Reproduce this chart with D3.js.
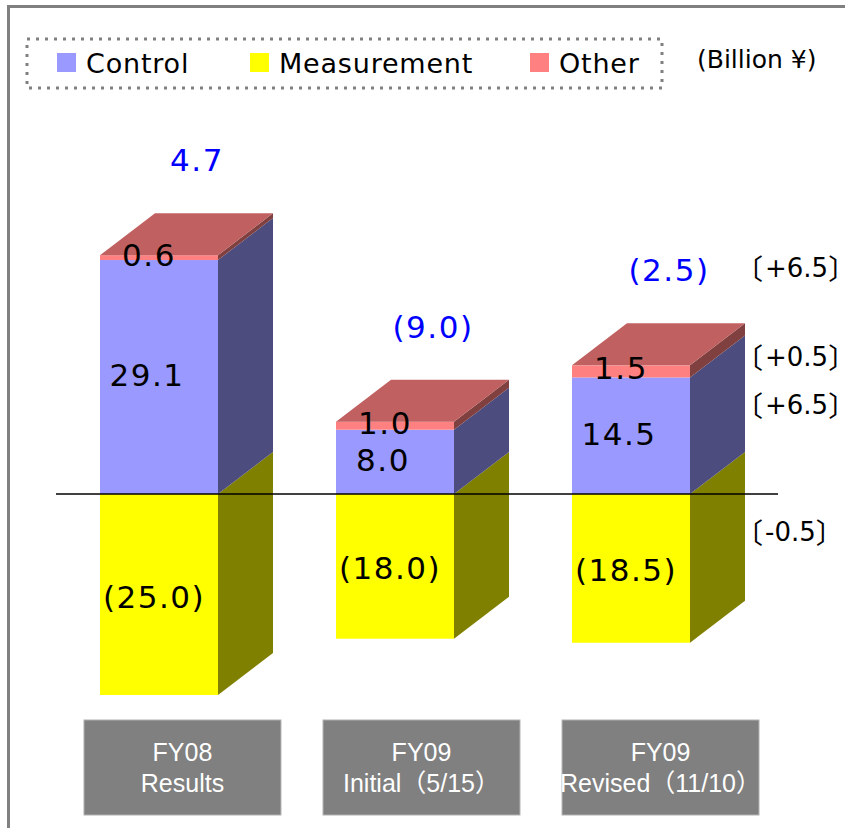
<!DOCTYPE html>
<html>
<head>
<meta charset="utf-8">
<script src="https://cdn.jsdelivr.net/npm/d3@7"></script>
<style>
  body { margin: 0; background: #fff; }
  svg { display: block; }
  .bracket { font-family: 'Noto Sans CJK JP', sans-serif; font-feature-settings: "halt"; }
</style>
</head>
<body>
<div id="chart"></div>
<script>
// ===========Data
var catTop = ["FY08", "FY09", "FY09"];
var catBottom = ["Results", "Initial（5/15）", "Revised（11/10）"];
var control = [29.1, 8.0, 14.5];
var measurement = [-25.0, -18.0, -18.5];
var other = [0.6, 1.0, 1.5];
var controlLabels = ["29.1", "8.0", "14.5"];
var measurementLabels = ["(25.0)", "(18.0)", "(18.5)"];
var otherLabels = ["0.6", "1.0", "1.5"];
var totalLabels = ["4.7", "(9.0)", "(2.5)"];
// change of revised forecast vs initial: total, other, control, measurement
var changeLabels = ["+6.5", "+0.5", "+6.5", "-0.5"];
var legendNames = ["Control", "Measurement", "Other"];

// ===========Sizes
var svgWidth = 845;
var svgHeight = 828;
var depthX = 55;
var depthY = -42;

var colors = {
    control: { front: "#9999FF", side: "#4C4C7E" },
    measurement: { front: "#FFFF00", side: "#808000" },
    other: { front: "#FF8080", side: "#804040", top: "#C06060" }
};

var svg = d3.select("#chart").append("svg")
    .attr("width", svgWidth)
    .attr("height", svgHeight);

// ===========Frame
svg.append("rect")
    .attr("x", 8.5)
    .attr("y", 6.5)
    .attr("width", 900)
    .attr("height", 900)
    .attr("fill", "none")
    .attr("stroke", "#808080")
    .attr("stroke-width", 3);

// ===========Scales
var keys = d3.range(catTop.length);
var xScale = d3.scaleBand()
    .domain(keys)
    .range([100, 690])
    .paddingInner(0.5)
    .paddingOuter(0);

var boxScale = d3.scaleBand()
    .domain(keys)
    .range([84, 759])
    .paddingInner(0.176)
    .paddingOuter(0);

var yScale = d3.scaleLinear()
    .domain([-25, 0])
    .range([695, 494]);

var bw = xScale.bandwidth();

// ===========Box drawing
function drawBox(g, x0, yTop, yBot, c) {
    g.append("rect")
        .attr("x", x0)
        .attr("y", yTop)
        .attr("width", bw)
        .attr("height", yBot - yTop)
        .attr("fill", c.front);

    g.append("polygon")
        .attr("points", [
            [x0 + bw, yTop], [x0 + bw + depthX, yTop + depthY],
            [x0 + bw + depthX, yBot + depthY], [x0 + bw, yBot]
        ].map(p => p.join(",")).join(" "))
        .attr("fill", c.side);

    if (c.top) {
        g.append("polygon")
            .attr("points", [
                [x0, yTop], [x0 + depthX, yTop + depthY],
                [x0 + bw + depthX, yTop + depthY], [x0 + bw, yTop]
            ].map(p => p.join(",")).join(" "))
            .attr("fill", c.top);
    }
}

var barGroup = svg.append("g");

keys.forEach(function(i) {
    var x0 = xScale(i);
    var g = barGroup.append("g");
    drawBox(g, x0, yScale(0), yScale(measurement[i]), colors.measurement);
    drawBox(g, x0, yScale(control[i]), yScale(0), colors.control);
    drawBox(g, x0, yScale(control[i] + other[i]), yScale(control[i]), colors.other);
});

// ===========Zero line
svg.append("line")
    .attr("x1", 56)
    .attr("x2", 778)
    .attr("y1", yScale(0))
    .attr("y2", yScale(0))
    .attr("stroke", "#000")
    .attr("stroke-width", 1.5);

// ===========Value labels
var valueFont = "'DejaVu Sans', sans-serif";

function valueText(x, y, txt, fill) {
    svg.append("text")
        .attr("x", x)
        .attr("y", y)
        .attr("text-anchor", "middle")
        .attr("dominant-baseline", "central")
        .attr("font-family", valueFont)
        .attr("font-size", 31)
        .attr("letter-spacing", 1.5)
        .attr("fill", fill)
        .text(txt);
}

keys.forEach(function(i) {
    var cx = xScale(i) + bw / 2;
    valueText(cx - 12, (yScale(control[i]) + yScale(0)) / 2 - 2, controlLabels[i], "#000");
    valueText(cx - 5, (yScale(measurement[i]) + yScale(0)) / 2 + 2, measurementLabels[i], "#000");
    valueText(cx - 10, (yScale(control[i] + other[i]) + yScale(control[i])) / 2 - 3, otherLabels[i], "#000");
    valueText(cx + 38, yScale(control[i] + other[i]) + depthY - 53, totalLabels[i], "#0000FF");
});

// ===========Change labels (revised vs initial), right of last bar
var last = keys.length - 1;
var changeY = [
    yScale(control[last] + other[last]) + depthY - 55,
    yScale(control[last] + other[last]) - 8,
    yScale(control[last]) + 28,
    yScale(0) + 38
];
changeLabels.forEach(function(t, j) {
    var txt = svg.append("text")
        .attr("x", 749)
        .attr("y", changeY[j])
        .attr("dominant-baseline", "central")
        .attr("font-family", "'DejaVu Sans', sans-serif")
        .attr("font-size", 26)
        .attr("fill", "#000");
    txt.append("tspan").attr("class", "bracket").attr("font-size", 28).text("〔");
    txt.append("tspan").attr("dx", 2).text(t);
    txt.append("tspan").attr("class", "bracket").attr("font-size", 28).text("〕");
});

// ===========Category boxes
var boxGroup = svg.append("g");
keys.forEach(function(i) {
    var bx = boxScale(i);
    var bwid = boxScale.bandwidth();
    boxGroup.append("rect")
        .attr("x", bx)
        .attr("y", 720)
        .attr("width", bwid)
        .attr("height", 95)
        .attr("fill", "#808080")
        .attr("stroke", "#B0B0B0")
        .attr("stroke-width", 1);

    var t = boxGroup.append("text")
        .attr("text-anchor", "middle")
        .attr("font-family", "'Liberation Sans', Arial, 'Noto Sans CJK JP', sans-serif")
        .attr("font-size", 25)
        .attr("fill", "#fff");
    t.append("tspan").attr("x", bx + bwid / 2).attr("y", 761).text(catTop[i]);
    t.append("tspan").attr("x", bx + bwid / 2).attr("y", 792).text(catBottom[i]);
});

// ===========Legend
var legend = svg.append("g");
legend.append("rect")
    .attr("x", 27)
    .attr("y", 39)
    .attr("width", 635)
    .attr("height", 49)
    .attr("fill", "none")
    .attr("stroke", "#808080")
    .attr("stroke-width", 3)
    .attr("stroke-dasharray", "3,6");

var legendX = [57, 250, 530];
var legendColors = [colors.control.front, colors.measurement.front, colors.other.front];
legendNames.forEach(function(name, i) {
    legend.append("rect")
        .attr("x", legendX[i])
        .attr("y", 53)
        .attr("width", 19)
        .attr("height", 19)
        .attr("fill", legendColors[i]);
    legend.append("text")
        .attr("x", legendX[i] + 29)
        .attr("y", 73)
        .attr("font-family", "'DejaVu Sans', sans-serif")
        .attr("font-size", 27)
        .attr("letter-spacing", 0.8)
        .attr("fill", "#000")
        .text(name);
});

svg.append("text")
    .attr("x", 697)
    .attr("y", 68)
    .attr("font-family", "'DejaVu Sans', sans-serif")
    .attr("font-size", 25)
    .attr("fill", "#000")
    .text("(Billion ¥)");
</script>
</body>
</html>
